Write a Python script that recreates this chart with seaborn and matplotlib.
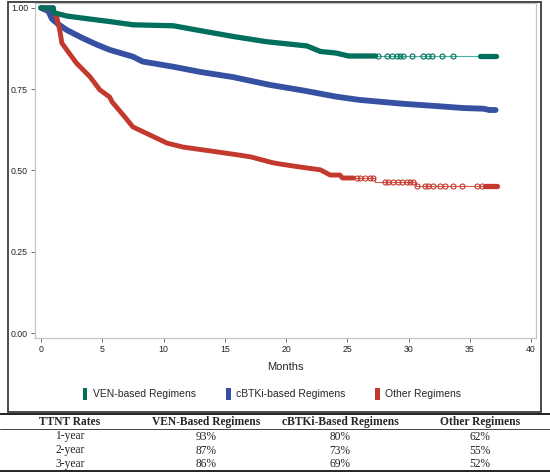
import numpy as np
import pandas as pd
import matplotlib
matplotlib.use("Agg")
import matplotlib.pyplot as plt
from matplotlib.patches import Patch, Rectangle
from matplotlib.lines import Line2D
import seaborn as sns

# Kaplan-Meier style curves (months, proportion)
# VEN-based regimens
ven_t = [0, 1.0, 1.05, 2.1, 3.5, 5.6, 7.5, 10.8, 13.0, 15.7, 18.4, 21.7, 22.8, 24.1, 25.1, 27.3]
ven_s = [1.0, 1.0, 0.985, 0.975, 0.968, 0.958, 0.948, 0.945, 0.93, 0.912, 0.896, 0.883, 0.866, 0.861, 0.852, 0.852]
ven_tail_t = [27.3, 37.1]
ven_tail_s = [0.852, 0.852]
ven_cens_t = [27.54, 28.22, 28.63, 29.03, 29.31, 29.58, 30.26, 31.21, 31.62, 31.89, 32.71, 33.66]
ven_cens_s = [0.852] * 12
ven_end_t = [35.85, 37.1]
ven_end_s = [0.852, 0.852]

# cBTKi-based regimens
btk_t = [0, 0.6, 0.9, 1.4, 2.1, 3.4, 4.5, 5.6, 7.5, 8.3, 10.8, 13.0, 15.7, 18.7, 21.4,
         24.1, 26.0, 29.6, 32.3, 34.5, 36.1, 36.6, 37.1]
btk_s = [1.0, 0.99, 0.966, 0.95, 0.932, 0.907, 0.888, 0.871, 0.85, 0.835, 0.819, 0.803, 0.787,
         0.763, 0.746, 0.727, 0.717, 0.705, 0.698, 0.692, 0.69, 0.686, 0.686]

# Other regimens
oth_t = [0, 1.0, 1.05, 1.3, 1.55, 1.7, 2.1, 2.9, 4.0, 4.8, 5.6, 5.8, 6.7, 7.5, 8.9, 10.3, 11.6,
         14.4, 15.7, 17.1, 18.9, 19.5, 20.9, 22.8, 23.6, 24.4, 24.6, 25.5]
oth_s = [1.0, 1.0, 0.985, 0.97, 0.927, 0.892, 0.871, 0.83, 0.788, 0.748, 0.726, 0.711, 0.671,
         0.634, 0.609, 0.584, 0.572, 0.557, 0.55, 0.542, 0.524, 0.52, 0.512, 0.502, 0.486,
         0.486, 0.477, 0.477]
oth_tail_t = [25.5, 27.27, 27.27, 30.6, 30.6, 37.2]
oth_tail_s = [0.477, 0.477, 0.466, 0.466, 0.453, 0.453]
oth_cens_t = [25.77, 26.04, 26.45, 26.86, 27.13,
              28.08, 28.35, 28.76, 29.17, 29.44, 29.85, 30.12, 30.39,
              30.67, 31.35, 31.62, 32.03, 32.57, 32.98, 33.66, 34.34, 35.56, 35.97]
oth_cens_s = [0.477] * 5 + [0.466] * 8 + [0.453] * 10
oth_end_t = [36.24, 37.2]
oth_end_s = [0.453, 0.453]

labels = ["VEN-based Regimens", "cBTKi-based Regimens", "Other Regimens"]
dark = {"ven": "#00705c", "btk": "#3650a2", "oth": "#c4392d"}
light = {"ven": "#48b3a3", "oth": "#d8584c"}

# table values
tab_cols = ["TTNT Rates", "VEN-Based Regimens", "cBTKi-Based Regimens", "Other Regimens"]
tab_rows = ["1-year", "2-year", "3-year"]
ven_rate = ["93%", "87%", "86%"]
btk_rate = ["80%", "73%", "69%"]
oth_rate = ["62%", "55%", "52%"]

sns.set_style("white")
plt.rcParams["font.family"] = ["Liberation Sans", "DejaVu Sans"]

fig = plt.figure(figsize=(5.5, 4.74), dpi=100)
ax = fig.add_axes([35 / 550, 1 - 338 / 474, 501 / 550, 335 / 474])


def band(t, s, col, lw=3.8):
    sns.lineplot(x=t, y=s, ax=ax, color=col, lw=lw, estimator=None, sort=False,
                 solid_capstyle="round", solid_joinstyle="round")


def thin(t, s, col):
    sns.lineplot(x=t, y=s, ax=ax, color=col, lw=0.8, estimator=None, sort=False)


def cens(t, s, col):
    ax.plot(t, s, ls="none", marker="o", ms=3.6, mfc="none", mec=col, mew=0.8)


# cBTKi
band(btk_t, btk_s, dark["btk"], lw=4.2)
# Other
thin(oth_tail_t, oth_tail_s, light["oth"])
cens(oth_cens_t, oth_cens_s, dark["oth"])
band(oth_end_t, oth_end_s, dark["oth"])
band(oth_t, oth_s, dark["oth"], lw=3.5)
# VEN
thin(ven_tail_t, ven_tail_s, light["ven"])
cens(ven_cens_t, ven_cens_s, dark["ven"])
band(ven_end_t, ven_end_s, dark["ven"])
band(ven_t, ven_s, dark["ven"])

ax.set_xlim(-0.49, 40.4)
ax.set_ylim(-0.015, 1.015)
ax.set_xticks(range(0, 41, 5))
ax.set_yticks([0, 0.25, 0.5, 0.75, 1.0])
ax.set_yticklabels(["0.00", "0.25", "0.50", "0.75", "1.00"])
ax.tick_params(axis="both", labelsize=6.3, colors="#555555", labelcolor="#222222",
               length=3, width=0.6, direction="out", pad=2)
ax.tick_params(axis="both", left=True, bottom=True)
for sp in ax.spines.values():
    sp.set_color("#c4c4c4")
    sp.set_linewidth(0.9)
ax.set_xlabel("Months", fontsize=8, color="#222222", labelpad=6)
ax.set_ylabel("")

# legend
handles = [Patch(facecolor=dark[k], edgecolor="none") for k in ["ven", "btk", "oth"]]
fig.legend(handles, labels, loc="center", bbox_to_anchor=(272 / 550, 1 - 394 / 474), ncol=3,
           frameon=False, fontsize=7.5, handlelength=0.45, handleheight=1.3,
           handletextpad=0.5, columnspacing=2.9)

# outer frame around the figure part
fig.add_artist(Rectangle((8 / 550, 1 - 412 / 474), 533 / 550, 410 / 474,
                         transform=fig.transFigure, fill=False, ec="#3c3c3c", lw=1.3))

# table below
fig.add_artist(Line2D([0, 1], [1 - 414 / 474] * 2, transform=fig.transFigure, color="#222222", lw=1.4))
fig.add_artist(Line2D([0, 1], [1 - 429 / 474] * 2, transform=fig.transFigure, color="#222222", lw=0.6))
fig.add_artist(Line2D([0, 1], [1 - 471 / 474] * 2, transform=fig.transFigure, color="#222222", lw=1.4))

col_x = [70, 206, 340, 480]
row_y = [436.5, 450.5, 464]
serif = ["Liberation Serif", "DejaVu Serif"]
for cx, name in zip(col_x, tab_cols):
    fig.text(cx / 550, 1 - 422 / 474, name, ha="center", va="center", fontsize=8.3,
             fontweight="bold", family=serif)
columns = [tab_rows, ven_rate, btk_rate, oth_rate]
for cx, vals in zip(col_x, columns):
    for ry, v in zip(row_y, vals):
        fig.text(cx / 550, 1 - ry / 474, v, ha="center", va="center", fontsize=8.3,
                 family=serif, color="#222222")

plt.savefig("out.png", dpi=100)
